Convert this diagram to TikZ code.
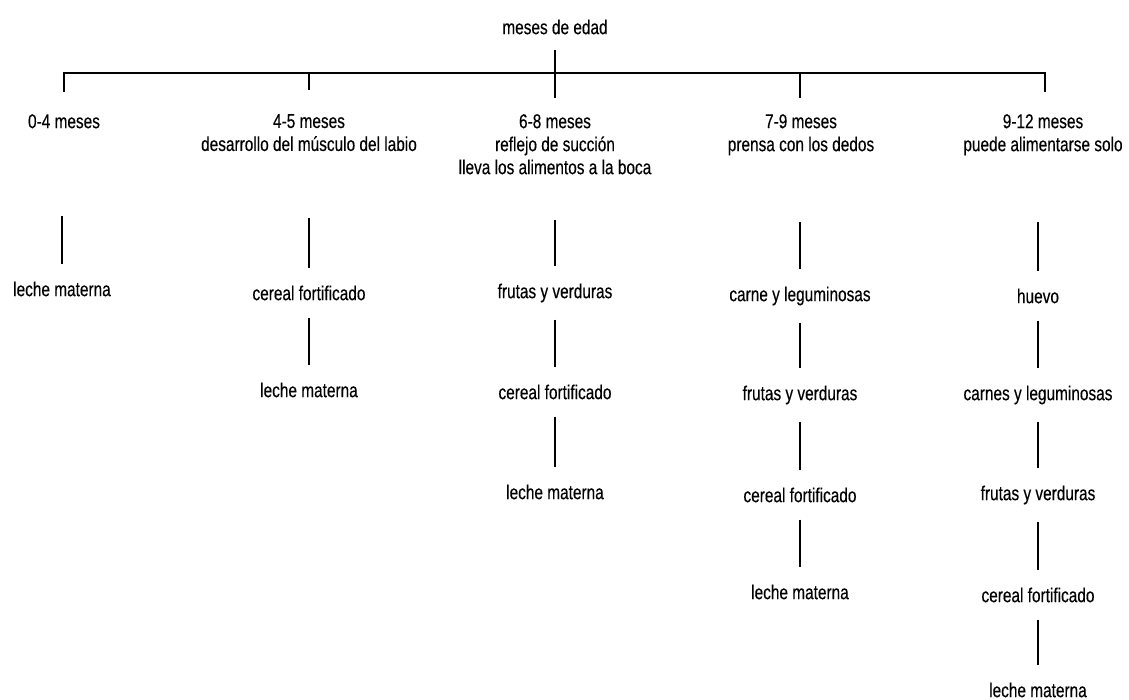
\documentclass[tikz,border=0pt]{standalone}
\usepackage{fontspec}
\setmainfont{Liberation Sans}[FakeStretch=0.77,FakeBold=0.3]
\begin{document}
\begin{tikzpicture}[x=1pt,y=-1pt,
  txt/.style={font=\fontsize{20}{23}\selectfont, inner sep=0pt, align=center},
  food/.style={txt},
  link/.style={draw, line width=1.1pt},
  flink/.style={link, shorten <=17pt, shorten >=17pt},
  tlink/.style={link, shorten >=17pt}]
\useasboundingbox (0,0) rectangle (1129,700);
% title and bar
\node[txt] (title) at (555,27) {meses de edad};
\coordinate (b1) at (64,73);
\coordinate (b5) at (1045,73);
\coordinate (d1) at (64,92);
\coordinate (b2) at (309,73);
\coordinate (d2) at (309,90);
\coordinate (d3) at (555,98);
\coordinate (b4) at (800,73);
\coordinate (d4) at (800,98);
\coordinate (d5) at (1045,92);
\draw[link] (d1) -- (b1) -- (b5) -- (d5);
\draw[link] (b2) -- (d2);
\draw[link, shorten <=15pt] (title.south) -- (d3);
\draw[link] (b4) -- (d4);
% headers
\node[txt, anchor=north] (h1) at (64,114) {0-4 meses};
\node[txt, anchor=north] (h2) at (309,114) {4-5 meses\\desarrollo del músculo del labio};
\node[txt, anchor=north] (h3) at (555,114) {6-8 meses\\reflejo de succión\\lleva los alimentos a la boca};
\node[txt, anchor=north] (h4) at (801,114) {7-9 meses\\prensa con los dedos};
\node[txt, anchor=north] (h5) at (1043,114) {9-12 meses\\puede alimentarse solo};
% column 1
\coordinate (s1) at (62,216);
\node[food] (f11) at (62,289) {leche materna};
\draw[tlink] (s1) -- (f11.north);
% column 2
\coordinate (s2) at (309,218);
\node[food] (f21) at (309,293) {cereal fortificado};
\node[food] (f22) at (309,390) {leche materna};
\draw[tlink] (s2) -- (f21.north);
\draw[flink] (f21.south) -- (f22.north);
% column 3
\coordinate (s3) at (555,220);
\node[food] (f31) at (555,293) {frutas y verduras};
\node[food] (f32) at (555,392) {cereal fortificado};
\node[food] (f33) at (555,492) {leche materna};
\draw[tlink] (s3) -- (f31.north);
\draw[flink] (f31.south) -- (f32.north);
\draw[flink] (f32.south) -- (f33.north);
% column 4
\coordinate (s4) at (800,222);
\node[food] (f41) at (800,296) {carne y leguminosas};
\node[food] (f42) at (800,395) {frutas y verduras};
\node[food] (f43) at (800,495) {cereal fortificado};
\node[food] (f44) at (800,592) {leche materna};
\draw[tlink] (s4) -- (f41.north);
\draw[flink] (f41.south) -- (f42.north);
\draw[flink] (f42.south) -- (f43.north);
\draw[flink] (f43.south) -- (f44.north);
% column 5
\coordinate (s5) at (1038,222);
\node[food] (f51) at (1038,296) {huevo};
\node[food] (f52) at (1038,395) {carnes y leguminosas};
\node[food] (f53) at (1038,495) {frutas y verduras};
\node[food] (f54) at (1038,595) {cereal fortificado};
\node[food] (f55) at (1038,690) {leche materna};
\draw[tlink] (s5) -- (f51.north);
\draw[flink] (f51.south) -- (f52.north);
\draw[flink] (f52.south) -- (f53.north);
\draw[flink] (f53.south) -- (f54.north);
\draw[flink] (f54.south) -- (f55.north);
\end{tikzpicture}
\end{document}
